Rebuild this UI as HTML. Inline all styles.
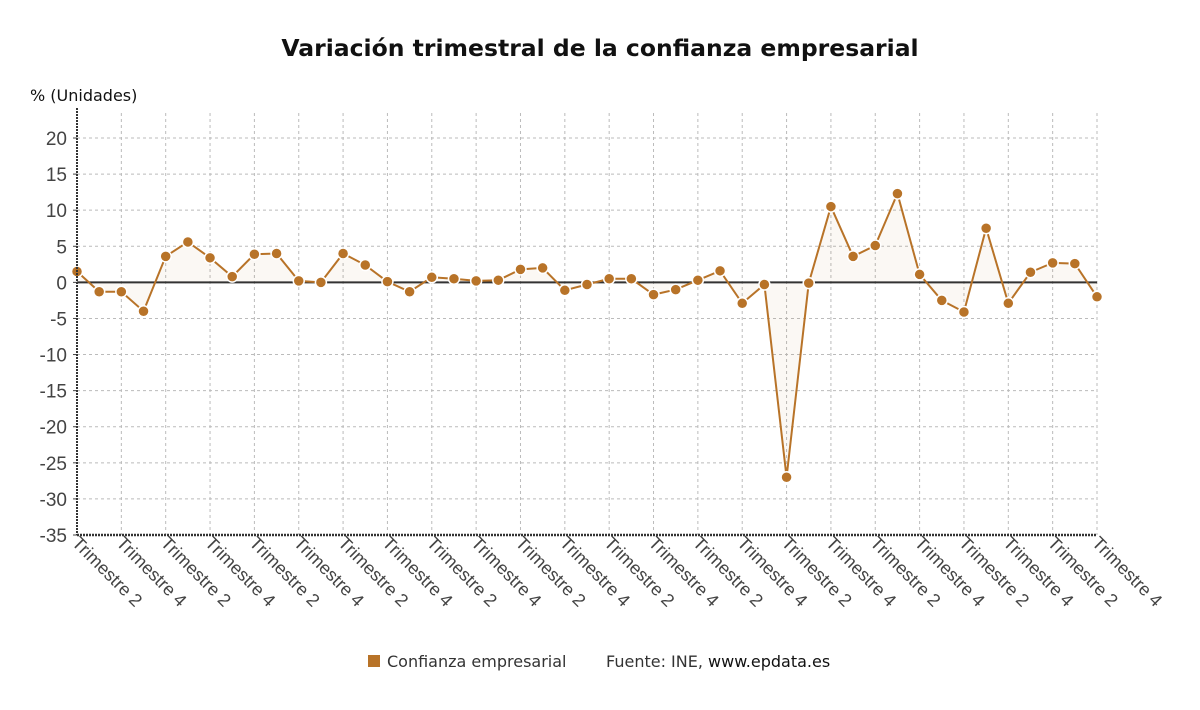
<!DOCTYPE html>
<html><head><meta charset="utf-8"><style>
body{margin:0;background:#fff;font-family:"Liberation Sans","DejaVu Sans",sans-serif}
</style></head><body>
<svg id="chart" width="1200" height="705" xmlns="http://www.w3.org/2000/svg">
<text x="600" y="56" text-anchor="middle" font-size="23.5" font-weight="bold" fill="#111" font-family="DejaVu Sans, sans-serif">Variación trimestral de la confianza empresarial</text>
<text x="30" y="101" font-size="16" fill="#111" font-family="DejaVu Sans, sans-serif">% (Unidades)</text>
<g id="grid"></g><g id="marks"></g><g id="axes"></g>
<g font-family="DejaVu Sans, sans-serif">
<rect x="368" y="655" width="12" height="12" fill="#b87328"/>
<text x="387" y="667" font-size="16" fill="#333">Confianza empresarial</text>
<text x="606" y="667" font-size="16" fill="#333">Fuente: INE, <tspan fill="#111">www.epdata.es</tspan></text>
</g>
</svg>
<script>
const values=[1.5,-1.3,-1.3,-4,3.6,5.6,3.4,0.8,3.9,4,0.2,0,4,2.4,0.1,-1.3,0.7,0.5,0.2,0.3,1.8,2,-1.1,-0.3,0.5,0.5,-1.7,-1,0.3,1.6,-2.9,-0.3,-27,-0.1,10.5,3.6,5.1,12.3,1.1,-2.5,-4.1,7.5,-2.9,1.4,2.7,2.6,-2];
const yTicks=[20,15,10,5,0,-5,-10,-15,-20,-25,-30,-35];
const xLabels=[];for(let i=0;i<24;i++)xLabels.push(i%2===0?'Trimestre 2':'Trimestre 4');
const X0=77,X1=1097,YT=138,YB=535,VMAX=20,VMIN=-35;
const xs=i=>X0+(X1-X0)*i/(values.length-1);
const ys=v=>YT+(VMAX-v)/(VMAX-VMIN)*(YB-YT);
const NS='http://www.w3.org/2000/svg';
function mk(t,a,p){const e=document.createElementNS(NS,t);for(const k in a)e.setAttribute(k,a[k]);p.appendChild(e);return e;}
const grid=document.getElementById('grid'),marks=document.getElementById('marks'),axes=document.getElementById('axes');
yTicks.forEach(v=>{
 const y=ys(v);
 if(v!==VMIN&&v!==0){const l=mk('line',{x1:X0,x2:X1,y1:y,y2:y,stroke:'#bbb','stroke-dasharray':'3,3'},grid);
 
 }
 const t=mk('text',{x:X0-10,y:y+7,'text-anchor':'end','font-size':'19',fill:'#444'},axes);t.textContent=v;
 
 
 mk('line',{x1:X0-4,x2:X0,y1:y,y2:y,stroke:'#444'},axes);
});
xLabels.forEach((s,i)=>{
 const x=X0+(X1-X0)*i/(xLabels.length-1);
 if(i>0){const l=mk('line',{x1:x,x2:x,y1:YT-25,y2:YB,stroke:'#bbb','stroke-dasharray':'3,3'},grid);
 
 }
 const t=mk('text',{x:0,y:0,'font-size':'18',fill:'#444',transform:`translate(${x-6},${YB+9}) rotate(45)`},axes);t.textContent=s;
 
 
});
let d=`M${xs(0)},${ys(0)}`;values.forEach((v,i)=>d+=` L${xs(i)},${ys(v)}`);d+=` L${xs(values.length-1)},${ys(0)} Z`;
const area=mk('path',{d,fill:'#b87328','fill-opacity':'0.05'},marks);


const z=mk('line',{x1:X0,x2:X1,y1:ys(0),y2:ys(0),stroke:'#333','stroke-width':2},marks);


const line=mk('polyline',{points:values.map((v,i)=>xs(i)+','+ys(v)).join(' '),fill:'none',stroke:'#b87328','stroke-width':2},marks);


values.forEach((v,i)=>{const c=mk('circle',{cx:xs(i),cy:ys(v),r:5.5,fill:'#b87328',stroke:'#fff','stroke-width':1.5},marks);
 
 });
const ya=mk('line',{x1:X0,x2:X0,y1:YT-30,y2:YB,stroke:'#333','stroke-width':2,'stroke-dasharray':'2,1'},axes);


const xa=mk('line',{x1:X0,x2:X1,y1:YB,y2:YB,stroke:'#333','stroke-width':2.5,'stroke-dasharray':'2,1'},axes);


</script>
</body></html>
